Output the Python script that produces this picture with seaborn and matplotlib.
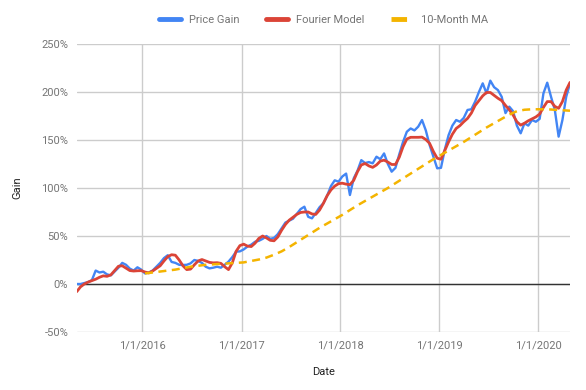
import matplotlib
matplotlib.use('Agg')
import matplotlib.pyplot as plt
import matplotlib.ticker as mticker
import pandas as pd
import seaborn as sns

sns.set_style('white')
plt.rcParams['font.family'] = ['Roboto', 'DejaVu Sans']

# biweekly dates
start_date = '2015-05-04'
n_points = 131

price_gain = [
    0, 0, 1, 2, 4, 14, 12, 12.8, 10, 9,
    13, 17, 22, 20, 16, 14, 17.4, 15, 11, 12,
    14, 18, 22, 27, 30, 23, 22, 20, 19.8, 20,
    21.5, 25, 24, 22, 18, 16.3, 17, 18, 17, 20,
    23.3, 28, 33.7, 34, 36, 39, 41, 44, 45, 47,
    50, 47, 48, 52, 58, 64, 66, 68, 73, 78,
    80.5, 70, 68.4, 74, 80, 84, 92, 102, 108, 106.6,
    112, 115, 92.7, 110, 118, 129, 126, 127, 125.7, 132.6,
    130, 136, 125, 117, 121, 135, 148, 158.6, 162, 160,
    163.9, 170.8, 160, 144.8, 132.6, 120.5, 121, 140, 155, 165,
    170.8, 169, 173, 181.3, 182, 190, 200, 209, 198.6, 211.8,
    205, 202, 195, 178, 184.7, 180, 165, 157, 167.4, 165,
    170.8, 169, 172, 198.6, 209.7, 195, 181.3, 153.5, 170.8, 195,
    209,
]

fourier_model = [
    -8, -3, 0, 2, 3.5, 5, 7, 8.5, 8, 9.5,
    14, 18.5, 19, 16.5, 14, 13.5, 13.8, 13.9, 12.5, 11.5,
    13.5, 16.3, 19, 24, 28.5, 30.5, 30, 25, 19, 15,
    15.5, 20, 24, 25.5, 24, 22.5, 22, 22.2, 21.5, 18,
    15, 22, 34, 40, 41.5, 39.5, 39, 42.5, 47.5, 50,
    48, 45.5, 45, 49, 56, 62, 66.5, 69.5, 72.5, 74.5,
    75, 75, 73, 72.5, 77, 84, 92, 98, 102, 104.5,
    105, 104, 103.5, 108, 117, 124, 125.5, 123, 121.5, 124,
    128, 129, 127, 124.5, 124.5, 132, 143, 151, 152.8, 152.8,
    152.8, 153, 150.5, 146.5, 138, 131, 130, 139, 148, 156,
    162, 165, 169, 172.5, 178, 186, 191, 196, 199.5, 199.5,
    196.5, 193.5, 191, 186, 181.5, 176, 169, 165.5, 167.5, 170,
    172, 174, 177, 184, 190, 190, 185, 183, 190, 202,
    210,
]

# 10-month moving average, every 4 weeks from Jan 2016
ma_start = '2016-01-11'
moving_avg = [
    11, 12, 13, 14, 15, 16.5, 18, 19, 20, 20.5,
    21, 21.5, 22, 22.5, 24, 25.5, 27.5, 30.5, 34, 38.5,
    43.5, 48.5, 53.5, 58.5, 63, 67.5, 72, 77, 82, 86.5,
    91, 95.5, 100, 105, 110, 115, 120, 125, 130, 134.5,
    139, 143.5, 148, 153, 158, 163, 167.5, 172, 176.5, 180,
    181.5, 182, 182, 182, 181.5, 181, 180.5,
]

tick_years = [2016, 2017, 2018, 2019, 2020]

dates = pd.date_range(start_date, periods=n_points, freq='14D')
df = pd.DataFrame({'Date': dates, 'Price Gain': price_gain,
                   'Fourier Model': fourier_model})
ma_df = pd.DataFrame({'Date': pd.date_range(ma_start, periods=len(moving_avg), freq='28D'),
                      'MA': moving_avg})

fig = plt.figure(figsize=(5.86, 3.9), dpi=100)
ax = fig.add_axes([0.1309, 0.1487, 0.8418, 0.7385])

ax.axhline(0, color='#333333', lw=1.0, zorder=2)

sns.lineplot(data=df, x='Date', y='Price Gain', ax=ax, color='#4285F4',
             lw=1.7, label='Price Gain', zorder=3)
sns.lineplot(data=df, x='Date', y='Fourier Model', ax=ax, color='#DB4437',
             lw=2.0, label='Fourier Model', zorder=4)
sns.lineplot(data=ma_df, x='Date', y='MA', ax=ax, color='#F4B400',
             lw=1.8, label='10-Month MA', zorder=5)
ax.lines[-1].set_dashes((3.2, 2.2))

ax.set_xlim(dates[0], dates[-1])
ax.set_ylim(-50, 250)
ax.set_yticks(range(-50, 251, 50))
ax.yaxis.set_major_formatter(mticker.FuncFormatter(lambda v, p: f'{int(v)}%'))
ticks = [pd.Timestamp(f'{y}-01-01') for y in tick_years]
ax.set_xticks(ticks)
ax.set_xticklabels([f'1/1/{y}' for y in tick_years])

ax.grid(True, color='#cccccc', lw=1.0)
ax.set_axisbelow(True)
for s in ax.spines.values():
    s.set_visible(False)
ax.tick_params(length=0, labelsize=8, colors='#757575', pad=6)

ax.set_xlabel('Date', fontsize=8, color='#222222', labelpad=12)
ax.set_ylabel('Gain', fontsize=8, color='#222222', labelpad=14)

leg = ax.legend(loc='lower center', bbox_to_anchor=(0.5, 1.03), ncol=3,
                frameon=False, fontsize=8, handlelength=2.0, columnspacing=2.4,
                handletextpad=0.7)
for t in leg.get_texts():
    t.set_color('#757575')
for h in leg.get_lines():
    h.set_linewidth(3.5)

fig.savefig('out.png', dpi=100)
